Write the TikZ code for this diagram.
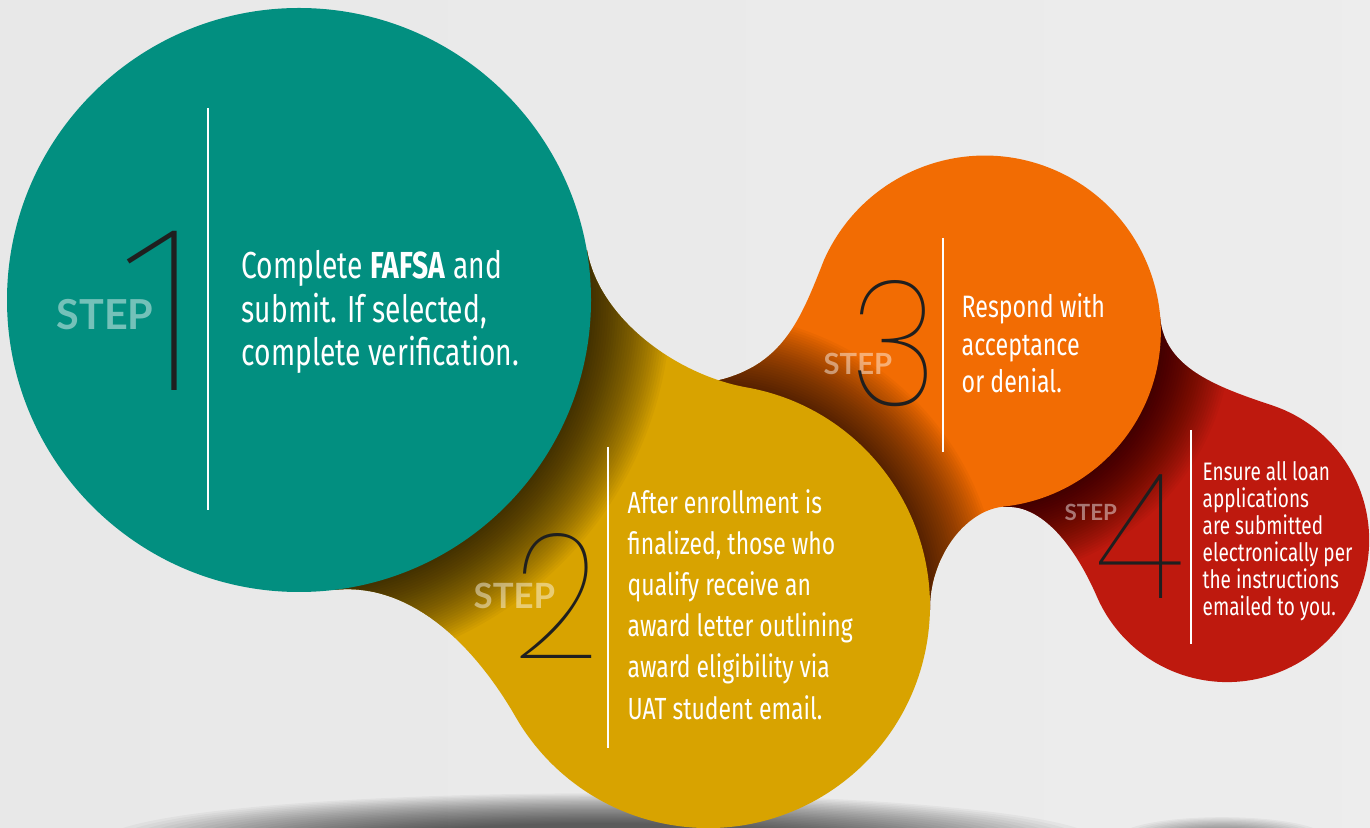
\documentclass[tikz,border=0pt]{standalone}
\usepackage{fontspec}
\newfontfamily\bodyfont{Fira Sans}[FakeStretch=0.75]
\newfontfamily\stepfont{Lato}
\newfontfamily\numfont{Poppins Thin}[FakeStretch=0.86]
\IfFontExistsTF{Fira Sans Thin}
  {\newfontfamily\onefont{Fira Sans Thin}}
  {\IfFontExistsTF{Fira Sans ExtraLight}
    {\newfontfamily\onefont{Fira Sans ExtraLight}}
    {\newfontfamily\onefont{Poppins Thin}}}
\definecolor{stepteal}{HTML}{028F80}
\definecolor{stepgold}{HTML}{D8A300}
\definecolor{steporange}{HTML}{F26C03}
\definecolor{stepred}{HTML}{BE190E}
\definecolor{paperedge}{HTML}{E8E8E8}
\tikzset{
  steplabel/.style={anchor=base west, inner sep=0pt, text=white, text opacity=0.45,
    font=\stepfont\bfseries\fontsize{#1}{#1}\selectfont},
  stepnum/.style={anchor=base, inner sep=0pt, text=black!88,
    font=\numfont\fontsize{#1}{#1}\selectfont},
  steptext/.style={anchor=base west, inner sep=0pt, text=white, align=left},
  divider/.style={white, line width=0.6pt},
}
% blob outlines: circle plus the bridge towards the previous step
\newcommand\redblob{(1160,317) .. controls (1164,367) and (1214,386) .. (1271,405)
  arc[start angle=-72, end angle=157, radius=142]
  .. controls (1076,549) and (1043,503) .. (1003,507) -- (985,332) -- cycle}
\newcommand\orangeblob{(689,385) .. controls (779,377) and (798,326) .. (824,260)
  arc[start angle=204, end angle=444, radius=176]
  .. controls (963,511) and (929,560) .. (930,610) -- (708,606) -- cycle}
\newcommand\goldblob{(587,250) .. controls (599,319) and (677,375) .. (746.5,387.4)
  arc[start angle=-80, end angle=150, radius=222]
  .. controls (476,648) and (412,581) .. (333,590) -- (299,300) -- cycle}

\begin{document}
\begin{tikzpicture}[x=0.01cm, y=-0.01cm]
  \clip (0,0) rectangle (1370,828);
  \shade[left color=paperedge, middle color=white, right color=paperedge!80] (0,0) rectangle (1370,828);
  \coordinate (c1) at (299,300);
  \coordinate (c2) at (708,606);
  \coordinate (c3) at (985,332);
  \coordinate (c4) at (1227,540);

  % floor shadows
  \foreach \k in {1,...,24}
    \fill[black, opacity=0.035] (600,842) ellipse ({510-12*\k} and {50-1.3*\k});
  \foreach \k in {1,...,12}
    \fill[black, opacity=0.04] (1222,838) ellipse ({110-6*\k} and {22-1.2*\k});

  \fill[stepred] \redblob;
  \begin{scope}
    \clip \redblob;
    \foreach \k in {1,...,28}
      \fill[black, opacity=0.032] (c3) circle ({176+2.5*\k});
  \end{scope}

  \fill[steporange] \orangeblob;
  \begin{scope}
    \clip \orangeblob;
    \foreach \k in {1,...,28}
      \fill[black, opacity=0.032] (c2) circle ({222+2.5*\k});
  \end{scope}

  \fill[stepgold] \goldblob;
  \begin{scope}
    \clip \goldblob;
    \foreach \k in {1,...,32}
      \fill[black, opacity=0.032] (c1) circle ({292+2.5*\k});
  \end{scope}

  \fill[stepteal] (c1) circle (292);

  \draw[divider] (208,108) coordinate (rule1top) -- (208,510) coordinate (rule1bot);
  \draw[divider] (608,447) coordinate (rule2top) -- (608,748) coordinate (rule2bot);
  \draw[divider] (943,238) coordinate (rule3top) -- (943,452) coordinate (rule3bot);
  \draw[divider] (1191,430) coordinate (rule4top) -- (1191,644) coordinate (rule4bot);

  \node[steplabel=11.75] (step1lbl) at (56,330) {STEP};
  \node[stepnum=67.7, anchor=base west, font=\onefont\fontsize{68.5}{68.5}\selectfont] (step1num) at (114,391) {1};
  \node[steptext, font=\bodyfont\fontsize{10.7}{12.4}\selectfont] (step1txt) at (241,366)
    {Complete \textbf{FAFSA} and\\submit. If selected,\\complete verification.};

  \node[steplabel=9.9] (step2lbl) at (473,608) {STEP};
  \node[stepnum=50] (step2num) at (556,658) {2};
  \node[steptext, font=\bodyfont\fontsize{8.7}{11.7}\selectfont] (step2txt) at (627,719)
    {After enrollment is\\finalized, those who\\qualify receive an\\award letter outlining\\award eligibility via\\UAT student email.};

  \node[steplabel=8.3] (step3lbl) at (823,375) {STEP};
  \node[stepnum=50] (step3num) at (894,406) {3};
  \node[steptext, font=\bodyfont\fontsize{8.8}{10.7}\selectfont] (step3txt) at (961,393)
    {Respond with\\acceptance\\or denial.};

  \node[steplabel=6.35] (step4lbl) at (1064,521) {STEP};
  \node[stepnum=50] (step4num) at (1140,598) {4};
  \node[steptext, font=\bodyfont\fontsize{7.2}{7.7}\selectfont] (step4txt) at (1202,616)
    {Ensure all loan\\applications\\are submitted\\electronically per\\the instructions\\emailed to you.};
\end{tikzpicture}
\end{document}
